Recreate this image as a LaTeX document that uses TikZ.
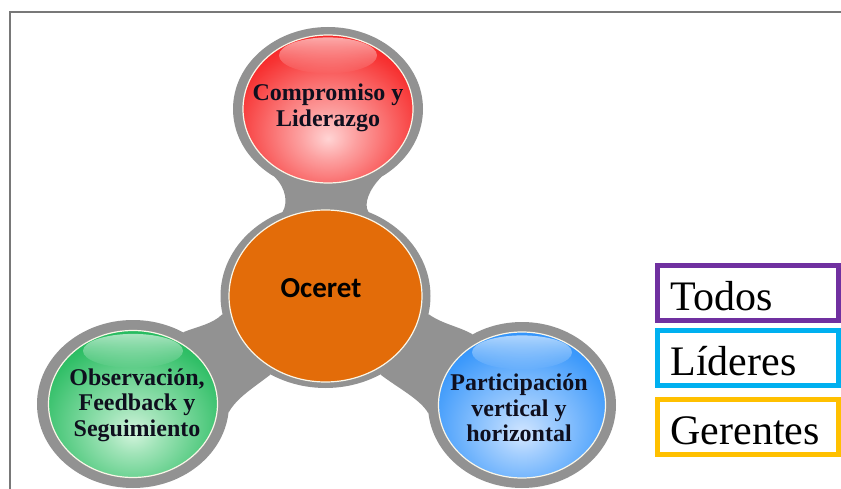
\documentclass[tikz,border=0pt]{standalone}
\usepackage{fontspec}
\setmainfont{Liberation Serif}
\newfontfamily\calibrifont{Carlito}
\usetikzlibrary{shapes.geometric,positioning,fadings}

\definecolor{ringgray}{RGB}{146,146,146}
\definecolor{framegray}{RGB}{120,120,120}
\definecolor{rimwhite}{RGB}{250,246,232}
\definecolor{orangec}{RGB}{227,108,9}
\definecolor{balltextc}{RGB}{15,15,30}
\definecolor{rededge}{RGB}{245,10,10}
\definecolor{redlight}{RGB}{255,212,212}
\definecolor{greenedge}{RGB}{10,178,75}
\definecolor{greenlight}{RGB}{210,244,220}
\definecolor{blueedge}{RGB}{25,135,250}
\definecolor{bluelight}{RGB}{210,230,255}
\definecolor{todosc}{RGB}{112,48,160}
\definecolor{lideresc}{RGB}{0,176,240}
\definecolor{gerentesc}{RGB}{255,192,0}

\pgfdeclareradialshading{redball}{\pgfpoint{0bp}{-10bp}}{color(0bp)=(redlight); color(8bp)=(redlight!75!rededge); color(28bp)=(rededge!80!redlight); color(38bp)=(rededge); color(80bp)=(rededge)}
\pgfdeclareradialshading{greenball}{\pgfpoint{0bp}{-10bp}}{color(0bp)=(greenlight); color(8bp)=(greenlight!75!greenedge); color(28bp)=(greenedge!80!greenlight); color(38bp)=(greenedge); color(80bp)=(greenedge)}
\pgfdeclareradialshading{blueball}{\pgfpoint{0bp}{-10bp}}{color(0bp)=(bluelight); color(8bp)=(bluelight!75!blueedge); color(28bp)=(blueedge!80!bluelight); color(38bp)=(blueedge); color(80bp)=(blueedge)}
\tikzfading[name=glossfade, top color=transparent!40, bottom color=transparent!100]

\begin{document}
\begin{tikzpicture}[x=1pt, y=-1pt,
  ring/.style={ellipse, fill=ringgray, inner sep=0pt},
  ball/.style={ellipse, draw=rimwhite, line width=1.2pt, inner sep=0pt},
  neck/.style={fill=ringgray},
  gloss/.style={fill=white, path fading=glossfade},
  balltext/.style={align=center, text=balltextc, font=\fontsize{24}{25.5}\selectfont\bfseries},
  legbox/.style={rectangle, line width=5pt, minimum height=55pt, text width=155pt,
    inner xsep=13pt, inner ysep=0pt, align=left, text height=34pt, text depth=0pt,
    font=\fontsize{42}{42}\selectfont}]
\useasboundingbox (0,0) rectangle (841,489);
\draw[framegray, line width=1.5pt] (10,489) -- (10,12) -- (841,12);

\node[ring, minimum width=210pt, minimum height=184pt] (oring) at (325.5,296) {};
\node[ring, minimum width=190pt, minimum height=164pt] (rring) at (328,109) {};
\node[ring, minimum width=192pt, minimum height=168pt] (gring) at (133,404) {};
\node[ring, minimum width=188pt, minimum height=166pt] (bring) at (522,405) {};

\fill[neck] (rring.232) .. controls +(12,12) and +(5,-8) .. (oring.117) -- (oring.63)
  .. controls +(-5,-8) and +(-12,12) .. (rring.308) -- cycle;
\fill[neck] (gring.55) .. controls +(15,-6) and +(-10,10) .. (oring.190) -- (oring.235)
  .. controls +(-17.5,13.5) and +(8,-14.5) .. (gring.-5) -- cycle;
\fill[neck] (oring.-10) .. controls +(14,10) and +(-14,-8) .. (bring.125) -- (bring.185)
  .. controls +(-8,-14) and +(17.5,13.5) .. (oring.-55) -- cycle;

\node[ball, fill=orangec, minimum width=193pt, minimum height=172pt] (orange) at (oring) {};
\node[ball, shade, shading=redball, minimum width=170pt, minimum height=148pt] (red) at (rring) {};
\node[ball, shade, shading=greenball, minimum width=169pt, minimum height=147pt] (green) at (gring) {};
\node[ball, shade, shading=blueball, minimum width=167pt, minimum height=146pt] (blue) at (bring) {};

\fill[gloss] ([yshift=-21pt]red.north) ellipse [x radius=49, y radius=18];
\fill[gloss] ([yshift=-21pt]green.north) ellipse [x radius=50, y radius=17];
\fill[gloss] ([yshift=-21pt]blue.north) ellipse [x radius=50, y radius=17];

\node[balltext] (tred) at (328,108) {Compromiso y\\Liderazgo};
\node[balltext] (tgreen) at (137,405) {Observación,\\Feedback y\\Seguimiento};
\node[balltext] (tblue) at (519,408) {Participación\\vertical y\\horizontal};
\node[font=\calibrifont\fontsize{29}{29}\selectfont\bfseries] (oceret) at (321,288) {Oceret};

\node[legbox, draw=todosc] (todos) at (748,293) {Todos};
\node[legbox, draw=lideresc, below=5pt of todos] (lideres) {Líderes};
\node[legbox, draw=gerentesc, below=9pt of lideres] (gerentes) {Gerentes};
\end{tikzpicture}
\end{document}
